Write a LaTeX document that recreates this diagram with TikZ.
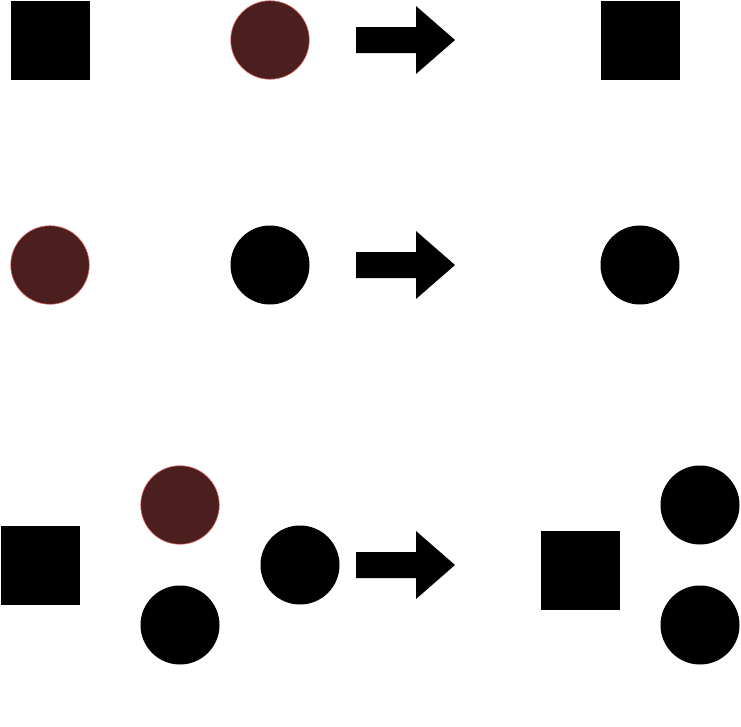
\documentclass[tikz,border=0pt]{standalone}
\definecolor{brownfill}{RGB}{74,31,29}
\definecolor{brownedge}{RGB}{225,95,95}
\tikzset{
  sq/.style={rectangle,fill=black,inner sep=0pt,minimum size=79pt},
  blk/.style={circle,fill=black,inner sep=0pt,minimum size=79pt},
  brn/.style={circle,fill=brownfill,draw=brownedge,line width=0.6pt,inner sep=0pt,minimum size=78.5pt},
  blockarrow/.style={fill=black}
}
\newcommand{\blockarr}[1]{%
  \fill[blockarrow] (356,#1-13) -- (416,#1-13) -- (416,#1-34) -- (455,#1) -- (416,#1+34) -- (416,#1+13) -- (356,#1+13) -- cycle;}
\begin{document}
\begin{tikzpicture}[x=1pt,y=-1pt]
\useasboundingbox (0,0) rectangle (741,726);
% row 1
\node[sq] (a1) at (50.5,40.5) {};
\node[brn] (b1) at (270,40) {};
\blockarr{40}
\node[sq] (c1) at (640.5,40.5) {};
% row 2
\node[brn] (a2) at (50,265) {};
\node[blk] (b2) at (270,265) {};
\blockarr{265}
\node[blk] (c2) at (640,265) {};
% row 3
\node[sq] (a3) at (40.5,565.5) {};
\node[brn] (b3) at (180,505) {};
\node[blk] (c3) at (180,625) {};
\node[blk] (d3) at (300,565) {};
\blockarr{565}
\node[sq] (e3) at (580.5,570.5) {};
\node[blk] (f3) at (700,505) {};
\node[blk] (g3) at (700,625) {};
\end{tikzpicture}
\end{document}
